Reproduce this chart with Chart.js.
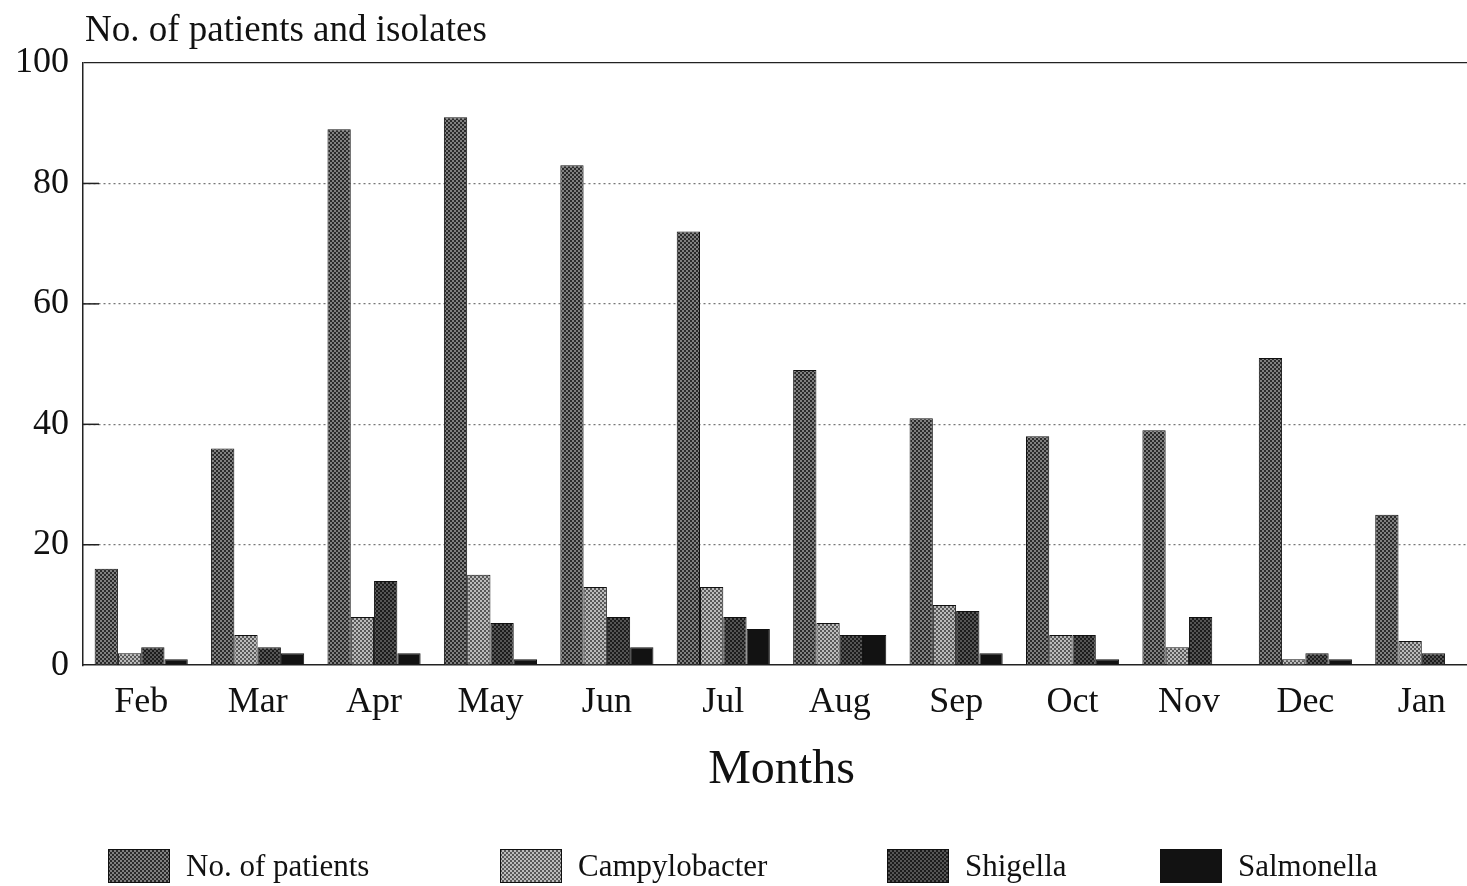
<!DOCTYPE html>
<html>
<head>
<meta charset="utf-8">
<script src="https://cdn.jsdelivr.net/npm/chart.js@4.4.0/dist/chart.umd.min.js"></script>
<style>
html, body { margin: 0; padding: 0; overflow: hidden; background: #fff; }
#wrap { width: 1500px; height: 886px; }
</style>
</head>
<body>
<div id="wrap"><canvas id="monthChart" width="1500" height="886"></canvas></div>
<script>
// data
const months = ['Feb', 'Mar', 'Apr', 'May', 'Jun', 'Jul', 'Aug', 'Sep', 'Oct', 'Nov', 'Dec', 'Jan'];
const patients = [16, 36, 89, 91, 83, 72, 49, 41, 38, 39, 51, 25];
const campylobacter = [2, 5, 8, 15, 13, 13, 7, 10, 5, 3, 1, 4];
const shigella = [3, 3, 14, 7, 8, 8, 5, 9, 5, 8, 2, 2];
const salmonella = [1, 2, 2, 1, 3, 6, 5, 2, 1, 0, 1, 0];
const yTicks = [0, 20, 40, 60, 80, 100];

const serif = '"Liberation Serif", "DejaVu Serif", serif';

// halftone-ish fill, like the scanned print
function makePattern(dark, light) {
    const c = document.createElement('canvas');
    c.width = 4;
    c.height = 4;
    const g = c.getContext('2d');
    g.fillStyle = dark;
    g.fillRect(0, 0, 4, 4);
    g.fillStyle = light;
    g.fillRect(0, 0, 2, 2);
    g.fillRect(2, 2, 2, 2);
    return g.createPattern(c, 'repeat');
}

const fills = {
    patients: makePattern('#2a2a2a', '#808080'),
    campy: makePattern('#585858', '#bcbcbc'),
    shigella: makePattern('#1c1c1c', '#555555'),
    salmonella: '#121212'
};

// y-axis caption sits above the plot, left aligned
const axisCaption = {
    id: 'axisCaption',
    afterDraw(chart) {
        const { ctx, chartArea } = chart;
        ctx.save();
        ctx.font = '37px ' + serif;
        ctx.fillStyle = '#111';
        ctx.textBaseline = 'alphabetic';
        ctx.fillText('No. of patients and isolates', chartArea.left + 2, chartArea.top - 22);
        ctx.restore();
    }
};

// short tick marks inside the left axis
const innerTicks = {
    id: 'innerTicks',
    beforeDatasetsDraw(chart) {
        const { ctx, chartArea, scales } = chart;
        const y = scales.y;
        ctx.save();
        ctx.strokeStyle = '#222';
        ctx.lineWidth = 1.5;
        y.ticks.forEach(t => {
            if (t.value === 0 || t.value === 100) return;
            const py = y.getPixelForValue(t.value);
            ctx.beginPath();
            ctx.moveTo(chartArea.left, py);
            ctx.lineTo(chartArea.left + 16, py);
            ctx.stroke();
        });
        ctx.restore();
    }
};

// legend along the bottom, items spread like the print
const legendSlots = [108, 500, 887, 1160];
const bottomLegend = {
    id: 'bottomLegend',
    afterDraw(chart) {
        const { ctx } = chart;
        const cy = chart.height - 20;
        ctx.save();
        ctx.font = '31px ' + serif;
        ctx.textBaseline = 'middle';
        chart.data.datasets.forEach((ds, i) => {
            const x = legendSlots[i];
            ctx.fillStyle = ds.backgroundColor;
            ctx.fillRect(x, cy - 17, 62, 34);
            ctx.strokeStyle = '#111';
            ctx.lineWidth = 1;
            ctx.strokeRect(x + 0.5, cy - 16.5, 61, 33);
            ctx.fillStyle = '#111';
            ctx.fillText(ds.label, x + 78, cy + 2);
        });
        ctx.restore();
    }
};

const ctx = document.getElementById('monthChart').getContext('2d');
new Chart(ctx, {
    type: 'bar',
    data: {
        labels: months,
        datasets: [
            { label: 'No. of patients', data: patients, backgroundColor: fills.patients },
            { label: 'Campylobacter', data: campylobacter, backgroundColor: fills.campy },
            { label: 'Shigella', data: shigella, backgroundColor: fills.shigella },
            { label: 'Salmonella', data: salmonella, backgroundColor: fills.salmonella }
        ]
    },
    options: {
        responsive: false,
        animation: false,
        datasets: {
            bar: {
                borderColor: '#111',
                borderWidth: 1,
                barPercentage: 1.0,
                categoryPercentage: 0.8
            }
        },
        layout: {
            padding: { left: 1, right: 20, top: 63, bottom: 87 }
        },
        plugins: {
            legend: { display: false },
            tooltip: { enabled: false }
        },
        scales: {
            x: {
                grid: { display: false },
                border: { display: true, color: '#222', width: 1.5 },
                ticks: {
                    color: '#111',
                    padding: 8,
                    maxRotation: 0,
                    font: { family: serif, size: 36 }
                },
                title: {
                    display: true,
                    text: 'Months',
                    color: '#111',
                    padding: { top: 9, bottom: 0 },
                    font: { family: serif, size: 48 }
                }
            },
            y: {
                min: 0,
                max: 100,
                afterBuildTicks(scale) {
                    scale.ticks = yTicks.map(v => ({ value: v }));
                },
                grid: {
                    drawTicks: false,
                    lineWidth: 1.2,
                    color: c => c.tick && c.tick.value === 100 ? '#222' : (c.tick && c.tick.value === 0 ? 'rgba(0,0,0,0)' : '#777')
                },
                border: {
                    display: true,
                    color: '#222',
                    width: 1.5,
                    dash: c => c.tick && c.tick.value === 100 ? [] : [2, 3]
                },
                ticks: {
                    color: '#111',
                    padding: 14,
                    font: { family: serif, size: 36 }
                }
            }
        }
    },
    plugins: [axisCaption, innerTicks, bottomLegend]
});
</script>
</body>
</html>
